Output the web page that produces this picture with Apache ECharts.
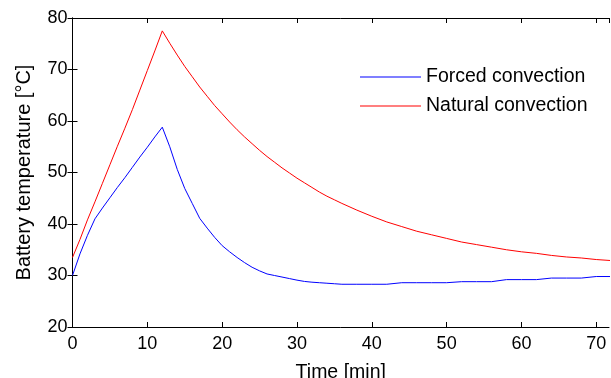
<!DOCTYPE html>
<html>
<head>
<meta charset="utf-8">
<script src="https://cdn.jsdelivr.net/npm/echarts@6/dist/echarts.min.js"></script>
<style>
html,body{margin:0;padding:0;background:#fff;}
#chart{width:611px;height:378px;}
</style>
</head>
<body>
<div id="chart"></div>
<script>
const timeMin = [0,1,2,3,4,5,6,7,8,9,10,11,12,13,14,15,16,17,18,19,20,21,22,23,24,25,26,27,28,29,30,31,32,33,34,35,36,38,40,42,44,46,48,50,52,54,56,58,60,62,64,66,68,70,72];
const forcedConvection = [30.0,34.2,37.8,41.0,43.1,45.1,47.1,49.0,51.0,53.0,54.9,56.9,58.8,55.0,50.6,46.9,44.0,41.1,39.2,37.4,35.8,34.6,33.5,32.5,31.6,30.9,30.3,30.0,29.7,29.4,29.1,28.85,28.7,28.6,28.5,28.4,28.3,28.3,28.3,28.3,28.6,28.6,28.6,28.6,28.8,28.8,28.8,29.2,29.2,29.2,29.5,29.5,29.5,29.8,29.8];
const naturalConvection = [33.5,37.0,40.8,44.3,47.9,51.5,55.1,58.6,62.2,66.0,69.8,73.6,77.5,75.1,72.8,70.6,68.6,66.6,64.8,63.0,61.4,59.8,58.3,56.9,55.6,54.3,53.1,52.0,50.9,49.9,48.9,48.0,47.1,46.2,45.4,44.7,44.0,42.7,41.5,40.4,39.5,38.6,37.9,37.2,36.5,36.0,35.5,35.0,34.6,34.3,33.9,33.6,33.4,33.1,32.9];
const seriesNames = ['Forced convection','Natural convection'];
const xTicks = {min:0, max:71.7, interval:10};
const yTicks = {min:20, max:80, interval:10};

const chart = echarts.init(document.getElementById('chart'), null, {renderer:'canvas'});
const axisLineStyle = {lineStyle:{color:'#000', width:1}};
const tickStyle = {inside:true, length:5, lineStyle:{color:'#000', width:1}};
const labelFont = {color:'#000', fontFamily:'Liberation Sans', fontSize:18};
const lineIcon = 'path://M0,0H60V1H0Z';
chart.setOption({
  animation:false,
  backgroundColor:'#fff',
  grid:{left:72.5, right:2, top:18, bottom:51, containLabel:false, outerBoundsMode:'none'},
  legend:{
    orient:'vertical', left:360, top:67, padding:0,
    itemWidth:61, itemHeight:14, itemGap:9, symbolKeepAspect:true,
    textStyle:{color:'#000', fontFamily:'Liberation Sans', fontSize:19.5},
    data:[{name:seriesNames[0], icon:lineIcon}, {name:seriesNames[1], icon:lineIcon}]
  },
  xAxis:[{
    type:'value', min:xTicks.min, max:xTicks.max, interval:xTicks.interval,
    name:'Time [min]', nameLocation:'middle', nameGap:36,
    nameTextStyle:{color:'#000', fontFamily:'Liberation Sans', fontSize:19.5},
    axisLine:axisLineStyle, axisTick:tickStyle,
    axisLabel:Object.assign({margin:8, showMaxLabel:false}, labelFont),
    splitLine:{show:false}
  },{
    type:'value', position:'top', min:xTicks.min, max:xTicks.max, interval:xTicks.interval,
    axisLine:axisLineStyle, axisTick:tickStyle, axisLabel:{show:false}, splitLine:{show:false}
  }],
  yAxis:[{
    type:'value', min:yTicks.min, max:yTicks.max, interval:yTicks.interval,
    name:'Battery temperature [\u00B0C]', nameLocation:'middle', nameGap:38,
    nameTextStyle:{color:'#000', fontFamily:'Liberation Sans', fontSize:20},
    axisLine:axisLineStyle, axisTick:tickStyle,
    axisLabel:Object.assign({margin:5}, labelFont),
    splitLine:{show:false}
  },{
    type:'value', position:'right', min:yTicks.min, max:yTicks.max, interval:yTicks.interval,
    axisLine:axisLineStyle, axisTick:tickStyle, axisLabel:{show:false}, splitLine:{show:false}
  }],
  series:[{
    name:seriesNames[0], type:'line', symbol:'none', smooth:false,
    lineStyle:{color:'#0000ff', width:1}, itemStyle:{color:'#0000ff'},
    data:timeMin.map((t,i)=>[t, forcedConvection[i]])
  },{
    name:seriesNames[1], type:'line', symbol:'none', smooth:false,
    lineStyle:{color:'#ff0000', width:1}, itemStyle:{color:'#ff0000'},
    data:timeMin.map((t,i)=>[t, naturalConvection[i]])
  }]
});
</script>
</body>
</html>
